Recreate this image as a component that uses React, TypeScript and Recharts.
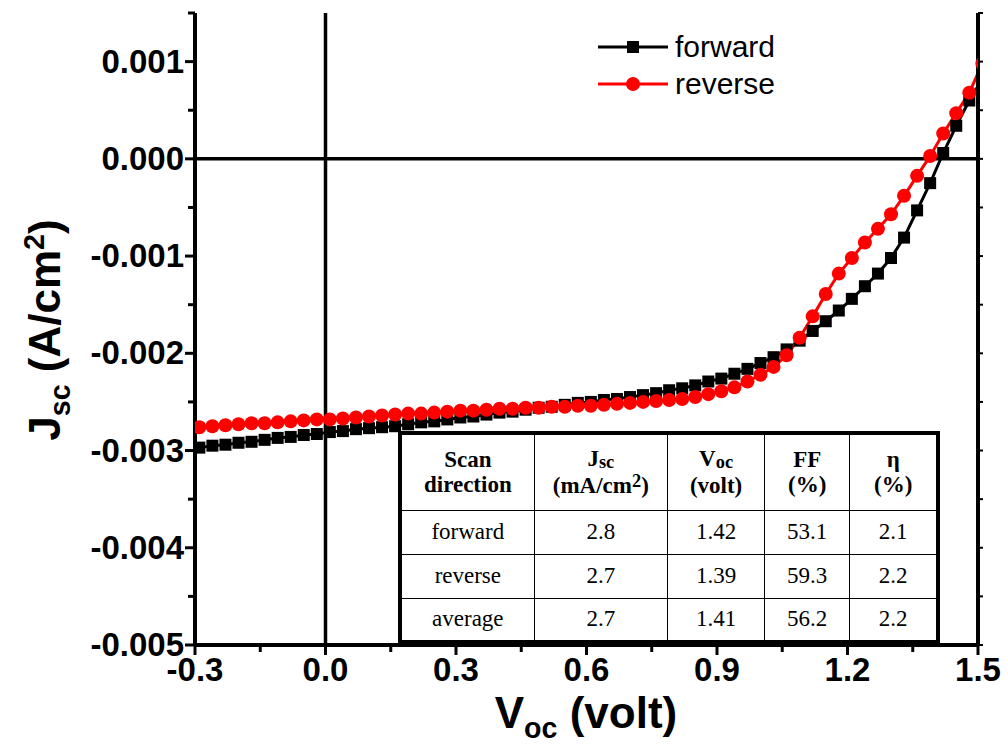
import { LineChart, Line, XAxis, YAxis, ReferenceLine } from "recharts";

// Scan voltage (V) for each recorded point
const voltage = [
  -0.32, -0.29, -0.26, -0.23, -0.2, -0.17, -0.14, -0.11, -0.08, -0.05, -0.02, 0.01, 0.04, 0.07, 0.1, 0.13,
  0.16, 0.19, 0.22, 0.25, 0.28, 0.31, 0.34, 0.37, 0.4, 0.43, 0.46, 0.49, 0.52, 0.55, 0.58, 0.61, 0.64,
  0.67, 0.7, 0.73, 0.76, 0.79, 0.82, 0.85, 0.88, 0.91, 0.94, 0.97, 1.0, 1.03, 1.06, 1.09, 1.12, 1.15,
  1.18, 1.21, 1.24, 1.27, 1.3, 1.33, 1.36, 1.39, 1.42, 1.45, 1.48, 1.51,
];

// Current density (A/cm2), forward scan
const forwardJ = [
  -0.00298, -0.00297, -0.00295, -0.00294, -0.00292, -0.00291, -0.00289, -0.00287, -0.00286, -0.00284,
  -0.00283, -0.00281, -0.0028, -0.00278, -0.00277, -0.00276, -0.00275, -0.00273, -0.00271, -0.0027,
  -0.00268, -0.00266, -0.00265, -0.00263, -0.00261, -0.0026, -0.00258, -0.00256, -0.00255, -0.00253,
  -0.00251, -0.0025, -0.00248, -0.00247, -0.00245, -0.00243, -0.00241, -0.00238, -0.00236, -0.00233,
  -0.00229, -0.00226, -0.00221, -0.00216, -0.0021, -0.00204, -0.00196, -0.00187, -0.00177, -0.00167,
  -0.00156, -0.00144, -0.00131, -0.00118, -0.00102, -0.00081, -0.00053, -0.00025, 0.00006, 0.00034,
  0.0006, 0.00082,
];

// Current density (A/cm2), reverse scan
const reverseJ = [
  -0.00277, -0.00276, -0.00275, -0.00274, -0.00273, -0.00272, -0.00272, -0.00271, -0.0027, -0.00269,
  -0.00268, -0.00268, -0.00267, -0.00266, -0.00265, -0.00264, -0.00263, -0.00262, -0.00262, -0.00261,
  -0.0026, -0.00259, -0.00259, -0.00258, -0.00257, -0.00257, -0.00256, -0.00256, -0.00255, -0.00255,
  -0.00254, -0.00254, -0.00253, -0.00252, -0.00251, -0.0025, -0.00249, -0.00248, -0.00247, -0.00245,
  -0.00242, -0.00239, -0.00235, -0.00229, -0.00222, -0.00214, -0.00202, -0.00184, -0.00162, -0.00139,
  -0.00118, -0.00102, -0.00086, -0.00072, -0.00057, -0.00038, -0.000175, 0.00003, 0.00026, 0.00047,
  0.00068, 0.00098,
];

const xTicks = [-0.3, -0.15, 0, 0.15, 0.3, 0.45, 0.6, 0.75, 0.9, 1.05, 1.2, 1.35, 1.5];
const yTicks = [
  -0.005, -0.0045, -0.004, -0.0035, -0.003, -0.0025, -0.002, -0.0015, -0.001, -0.0005, 0, 0.0005, 0.001,
  0.0015,
];

const tableHeader = ["Scan direction", "Jsc", "Voc", "FF", "η"];
const tableRows = [
  ["forward", "2.8", "1.42", "53.1", "2.1"],
  ["reverse", "2.7", "1.39", "59.3", "2.2"],
  ["average", "2.7", "1.41", "56.2", "2.2"],
];

const data = voltage.map((v, i) => ({ v, forward: forwardJ[i], reverse: reverseJ[i] }));

const isMajor = (v: number, step: number) => Math.abs(Math.round(v / step) * step - v) < 1e-9;

const tickFont = {
  fontFamily: "'Liberation Sans', Arial, sans-serif",
  fontWeight: 700,
  fontSize: 33,
  fill: "#000",
};

const BottomTick = (props: any) => {
  const { x, y, payload } = props;
  const major = isMajor(payload.value, 0.3);
  return (
    <g>
      <line x1={x} x2={x} y1={y} y2={y + (major ? 10 : 7)} stroke="#000" strokeWidth={3} />
      {major && (
        <text x={x} y={y + 36} textAnchor="middle" style={tickFont}>
          {payload.value.toFixed(1)}
        </text>
      )}
    </g>
  );
};

const LeftTick = (props: any) => {
  const { x, y, payload } = props;
  const major = isMajor(payload.value, 0.001);
  return (
    <g>
      <line x1={x - (major ? 10 : 7)} x2={x} y1={y} y2={y} stroke="#000" strokeWidth={3} />
      {major && payload.value < 0.0012 && (
        <text x={x - 11} y={y + 11} textAnchor="end" style={tickFont}>
          {payload.value.toFixed(3)}
        </text>
      )}
    </g>
  );
};

const TopTick = (props: any) => {
  const { x, y, payload } = props;
  const major = isMajor(payload.value, 0.3);
  return <line x1={x} x2={x} y1={y} y2={y + (major ? 6 : 4)} stroke="#000" strokeWidth={2} />;
};

const RightTick = (props: any) => {
  const { x, y } = props;
  return <line x1={x} x2={x + 5} y1={y} y2={y} stroke="#000" strokeWidth={2} />;
};

const SquareDot = (props: any) => {
  const { cx, cy, index } = props;
  if (cx == null || cy == null) return null;
  return <rect key={`sq-${index}`} x={cx - 6} y={cy - 6} width={12} height={12} fill="#000" />;
};

const titleFont = {
  fontFamily: "'Liberation Sans', Arial, sans-serif",
  fontWeight: 700,
  fontSize: 44,
  lineHeight: 1,
  whiteSpace: "nowrap" as const,
  color: "#000",
};

const cellFont = {
  fontFamily: "'Liberation Serif', 'Times New Roman', serif",
  fontSize: 23,
  color: "#000",
};

const subStyle = { fontSize: "0.8em", lineHeight: 0, verticalAlign: "-0.1em" };
const supStyle = { fontSize: "0.8em", lineHeight: 0, verticalAlign: "0.35em" };

function Legend() {
  const rows = [
    { label: "forward", color: "#000", square: true, cy: 47 },
    { label: "reverse", color: "#ff0000", square: false, cy: 84 },
  ];
  return (
    <>
      {rows.map((r) => (
        <div
          key={r.label}
          style={{
            position: "absolute",
            left: 596,
            top: r.cy - 18,
            height: 36,
            display: "flex",
            alignItems: "center",
          }}
        >
          <svg width={76} height={36}>
            <line x1={2} x2={72} y1={18} y2={18} stroke={r.color} strokeWidth={3} />
            {r.square ? (
              <rect x={31} y={12} width={12} height={12} fill={r.color} />
            ) : (
              <circle cx={37} cy={18} r={7} fill={r.color} />
            )}
          </svg>
          <span
            style={{
              marginLeft: 3,
              fontFamily: "'Liberation Sans', Arial, sans-serif",
              fontSize: 30,
              lineHeight: 1,
            }}
          >
            {r.label}
          </span>
        </div>
      ))}
    </>
  );
}

function ResultTable() {
  const cell = { border: "1px solid #000", textAlign: "center" as const, padding: 0 };
  const head = { ...cell, fontWeight: 700, lineHeight: 1.1 };
  return (
    <table
      style={{
        position: "absolute",
        left: 398,
        top: 431,
        width: 542,
        height: 212,
        borderCollapse: "collapse",
        border: "4px solid #000",
        background: "#fff",
        ...cellFont,
      }}
    >
      <colgroup>
        <col style={{ width: 135 }} />
        <col style={{ width: 134 }} />
        <col style={{ width: 98 }} />
        <col style={{ width: 86 }} />
        <col style={{ width: 89 }} />
      </colgroup>
      <tbody>
        <tr style={{ height: 77 }}>
          <td style={head}>
            Scan
            <br />
            direction
          </td>
          <td style={head}>
            <div style={{ marginBottom: 2 }}>
              J<span style={subStyle}>sc</span>
            </div>
            <div>
              (mA/cm<span style={supStyle}>2</span>)
            </div>
          </td>
          <td style={head}>
            <div style={{ marginBottom: 2 }}>
              V<span style={subStyle}>oc</span>
            </div>
            <div>(volt)</div>
          </td>
          <td style={head}>
            {tableHeader[3]}
            <br />
            (%)
          </td>
          <td style={head}>
            {tableHeader[4]}
            <br />
            (%)
          </td>
        </tr>
        {tableRows.map((row) => (
          <tr key={row[0]} style={{ height: 44 }}>
            {row.map((c, i) => (
              <td key={i} style={cell}>
                {c}
              </td>
            ))}
          </tr>
        ))}
      </tbody>
    </table>
  );
}

export default function App() {
  return (
    <div style={{ position: "absolute", left: 0, top: 0, width: 1008, height: 750, background: "#fff" }}>
      <LineChart width={1008} height={750} data={data} margin={{ top: 13, right: 25, bottom: 45, left: 95 }}>
        <XAxis
          dataKey="v"
          type="number"
          domain={[-0.3, 1.5]}
          allowDataOverflow
          ticks={xTicks}
          interval={0}
          tick={<BottomTick />}
          tickLine={false}
          tickSize={0}
          tickMargin={0}
          height={60}
          axisLine={{ stroke: "#000", strokeWidth: 4 }}
        />
        <XAxis
          xAxisId="top"
          orientation="top"
          dataKey="v"
          type="number"
          domain={[-0.3, 1.5]}
          allowDataOverflow
          ticks={xTicks}
          interval={0}
          tick={<TopTick />}
          tickLine={false}
          tickSize={0}
          tickMargin={0}
          height={0}
          axisLine={{ stroke: "#000", strokeWidth: 4 }}
        />
        <YAxis
          type="number"
          domain={[-0.005, 0.0015]}
          allowDataOverflow
          ticks={yTicks}
          interval={0}
          tick={<LeftTick />}
          tickLine={false}
          tickSize={0}
          tickMargin={0}
          width={100}
          axisLine={{ stroke: "#000", strokeWidth: 4 }}
        />
        <YAxis
          yAxisId="right"
          orientation="right"
          type="number"
          domain={[-0.005, 0.0015]}
          allowDataOverflow
          ticks={yTicks}
          interval={0}
          tick={<RightTick />}
          tickLine={false}
          tickSize={0}
          tickMargin={0}
          width={5}
          axisLine={{ stroke: "#000", strokeWidth: 4 }}
        />
        <ReferenceLine y={0} stroke="#000" strokeWidth={3.5} />
        <ReferenceLine x={0} stroke="#000" strokeWidth={3.5} />
        <Line
          dataKey="forward"
          stroke="#000"
          strokeWidth={3}
          dot={<SquareDot />}
          activeDot={false}
          isAnimationActive={false}
        />
        <Line
          dataKey="reverse"
          stroke="#ff0000"
          strokeWidth={3}
          dot={{ r: 7, fill: "#ff0000", stroke: "none" }}
          activeDot={false}
          isAnimationActive={false}
        />
      </LineChart>

      <Legend />
      <ResultTable />

      <div
        style={{
          ...titleFont,
          position: "absolute",
          left: 45,
          top: 330,
          transform: "translate(-50%, -50%) rotate(-90deg)",
        }}
      >
        J<sub style={{ fontSize: "0.65em", lineHeight: 0 }}>sc</sub> (A/cm
        <sup style={{ fontSize: "0.65em", lineHeight: 0 }}>2</sup>)
      </div>
      <div
        style={{
          ...titleFont,
          position: "absolute",
          left: 586,
          top: 691,
          transform: "translateX(-50%)",
        }}
      >
        V<sub style={{ fontSize: "0.65em", lineHeight: 0 }}>oc</sub> (volt)
      </div>
    </div>
  );
}
